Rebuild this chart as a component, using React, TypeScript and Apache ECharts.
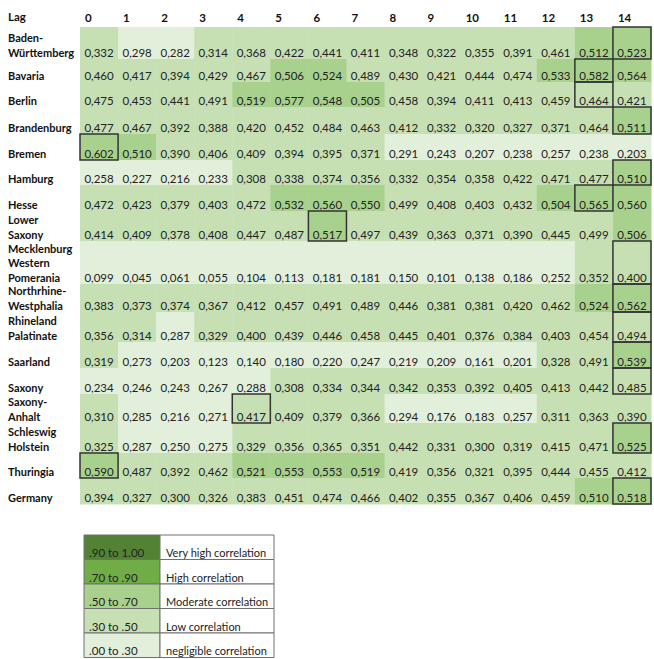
import React, { useEffect, useRef } from "react";
import * as echarts from "echarts";

const lags = ["0", "1", "2", "3", "4", "5", "6", "7", "8", "9", "10", "11", "12", "13", "14"];

const regions = [
  "Baden-\nWürttemberg",
  "Bavaria",
  "Berlin",
  "Brandenburg",
  "Bremen",
  "Hamburg",
  "Hesse",
  "Lower\nSaxony",
  "Mecklenburg\nWestern\nPomerania",
  "Northrhine-\nWestphalia",
  "Rhineland\nPalatinate",
  "Saarland",
  "Saxony",
  "Saxony-\nAnhalt",
  "Schleswig\nHolstein",
  "Thuringia",
  "Germany",
];

const badenWuerttemberg = [0.332, 0.298, 0.282, 0.314, 0.368, 0.422, 0.441, 0.411, 0.348, 0.322, 0.355, 0.391, 0.461, 0.512, 0.523];
const bavaria = [0.46, 0.417, 0.394, 0.429, 0.467, 0.506, 0.524, 0.489, 0.43, 0.421, 0.444, 0.474, 0.533, 0.582, 0.564];
const berlin = [0.475, 0.453, 0.441, 0.491, 0.519, 0.577, 0.548, 0.505, 0.458, 0.394, 0.411, 0.413, 0.459, 0.464, 0.421];
const brandenburg = [0.477, 0.467, 0.392, 0.388, 0.42, 0.452, 0.484, 0.463, 0.412, 0.332, 0.32, 0.327, 0.371, 0.464, 0.511];
const bremen = [0.602, 0.51, 0.39, 0.406, 0.409, 0.394, 0.395, 0.371, 0.291, 0.243, 0.207, 0.238, 0.257, 0.238, 0.203];
const hamburg = [0.258, 0.227, 0.216, 0.233, 0.308, 0.338, 0.374, 0.356, 0.332, 0.354, 0.358, 0.422, 0.471, 0.477, 0.51];
const hesse = [0.472, 0.423, 0.379, 0.403, 0.472, 0.532, 0.56, 0.55, 0.499, 0.408, 0.403, 0.432, 0.504, 0.565, 0.56];
const lowerSaxony = [0.414, 0.409, 0.378, 0.408, 0.447, 0.487, 0.517, 0.497, 0.439, 0.363, 0.371, 0.39, 0.445, 0.499, 0.506];
const mecklenburg = [0.099, 0.045, 0.061, 0.055, 0.104, 0.113, 0.181, 0.181, 0.15, 0.101, 0.138, 0.186, 0.252, 0.352, 0.4];
const northrhineWestphalia = [0.383, 0.373, 0.374, 0.367, 0.412, 0.457, 0.491, 0.489, 0.446, 0.381, 0.381, 0.42, 0.462, 0.524, 0.562];
const rhinelandPalatinate = [0.356, 0.314, 0.287, 0.329, 0.4, 0.439, 0.446, 0.458, 0.445, 0.401, 0.376, 0.384, 0.403, 0.454, 0.494];
const saarland = [0.319, 0.273, 0.203, 0.123, 0.14, 0.18, 0.22, 0.247, 0.219, 0.209, 0.161, 0.201, 0.328, 0.491, 0.539];
const saxony = [0.234, 0.246, 0.243, 0.267, 0.288, 0.308, 0.334, 0.344, 0.342, 0.353, 0.392, 0.405, 0.413, 0.442, 0.485];
const saxonyAnhalt = [0.31, 0.285, 0.216, 0.271, 0.417, 0.409, 0.379, 0.366, 0.294, 0.176, 0.183, 0.257, 0.311, 0.363, 0.39];
const schleswigHolstein = [0.325, 0.287, 0.25, 0.275, 0.329, 0.356, 0.365, 0.351, 0.442, 0.331, 0.3, 0.319, 0.415, 0.471, 0.525];
const thuringia = [0.59, 0.487, 0.392, 0.462, 0.521, 0.553, 0.553, 0.519, 0.419, 0.356, 0.321, 0.395, 0.444, 0.455, 0.412];
const germany = [0.394, 0.327, 0.3, 0.326, 0.383, 0.451, 0.474, 0.466, 0.402, 0.355, 0.367, 0.406, 0.459, 0.51, 0.518];

const rows = [
  badenWuerttemberg, bavaria, berlin, brandenburg, bremen, hamburg, hesse, lowerSaxony,
  mecklenburg, northrhineWestphalia, rhinelandPalatinate, saarland, saxony, saxonyAnhalt,
  schleswigHolstein, thuringia, germany,
];

// lag whose cell is outlined in each row
const boxedLag = [14, 13, 13, 14, 0, 14, 13, 6, 14, 14, 14, 14, 14, 4, 14, 0, 14];

const thresholds = [0.9, 0.7, 0.5, 0.3, 0.0];
const legendRanges = [".90 to 1.00", ".70 to .90", ".50 to .70", ".30 to .50", ".00 to .30"];
const legendLabels = ["Very high correlation", "High correlation", "Moderate correlation", "Low correlation", "negligible correlation"];
const bandColors = ["#548235", "#70AD47", "#A9D18E", "#C6E0B4", "#E2EFDA"];

// layout (row heights in px, like spreadsheet rows)
const rowHeights = [32, 23, 25, 27, 26, 25, 26, 30, 43, 28, 30, 26, 26, 29, 30, 25, 26];
const FONT = "Lato, 'Open Sans', sans-serif";

const rowTops: number[] = [];
{
  let acc = 0;
  for (const h of rowHeights) {
    rowTops.push(acc);
    acc += h;
  }
}
const totalH = rowHeights.reduce((a, b) => a + b, 0);

function colorFor(v: number): string {
  for (let i = 0; i < thresholds.length; i++) if (v >= thresholds[i] - 1e-9) return bandColors[i];
  return bandColors[bandColors.length - 1];
}
const fmt = (v: number) => v.toFixed(3).replace(".", ",");

export default function App() {
  const ref = useRef<HTMLDivElement>(null);
  useEffect(() => {
    if (!ref.current) return;
    const chart = echarts.init(ref.current, undefined, { renderer: "svg" });

    const cellData: number[][] = [];
    rows.forEach((vals, r) => vals.forEach((v, c) => cellData.push([c, r, v])));
    const boxData = boxedLag.map((c, r) => [c, r]);
    const labelData = regions.map((_, r) => [0, r]);

    const legendTop = 535;
    const legendRowH = 24.5;
    const lx0 = 84, lx1 = 160, lx2 = 274;
    const legendEls: any[] = [];
    legendRanges.forEach((rng, i) => {
      const y = legendTop + i * legendRowH;
      legendEls.push({
        type: "rect",
        shape: { x: lx0, y, width: lx1 - lx0, height: legendRowH },
        style: { fill: bandColors[i], stroke: "#707070", lineWidth: 1 },
      });
      legendEls.push({
        type: "rect",
        shape: { x: lx1, y, width: lx2 - lx1, height: legendRowH },
        style: { fill: "#ffffff", stroke: "#707070", lineWidth: 1 },
      });
      legendEls.push({
        type: "text",
        x: lx0 + 5,
        y: y + legendRowH - 7,
        style: { text: rng, fill: "#222", fontSize: 11.5, fontFamily: FONT, align: "left", verticalAlign: "middle" },
      });
      legendEls.push({
        type: "text",
        x: lx1 + 6,
        y: y + legendRowH - 7,
        style: { text: legendLabels[i], fill: "#222", fontSize: 11, fontFamily: FONT, align: "left", verticalAlign: "middle" },
      });
    });

    chart.setOption({
      animation: false,
      backgroundColor: "#ffffff",
      grid: { left: 80, top: 27, width: 572, height: totalH, containLabel: false },
      xAxis: {
        type: "value",
        position: "top",
        min: 0,
        max: 15,
        interval: 1,
        axisLine: { show: false },
        axisTick: { show: false },
        splitLine: { show: false },
        axisLabel: {
          formatter: (v: number) => lags[v] ?? "",
          align: "left",
          padding: [0, 0, 0, 5],
          margin: 4,
          fontWeight: "bold",
          fontSize: 11.5,
          fontFamily: FONT,
          color: "#111",
        },
      },
      yAxis: { type: "value", min: 0, max: totalH, inverse: true, show: false },
      graphic: [
        {
          type: "text",
          x: 8,
          y: 16,
          style: { text: "Lag", fill: "#111", fontSize: 11.5, fontWeight: "bold", fontFamily: FONT, align: "left", verticalAlign: "middle" },
        },
        ...legendEls,
      ],
      series: [
        {
          type: "custom",
          data: cellData,
          z: 1,
          renderItem: (params: any, api: any) => {
            const c = api.value(0), r = api.value(1), v = api.value(2);
            const p0 = api.coord([c, rowTops[r]]);
            const p1 = api.coord([c + 1, rowTops[r] + rowHeights[r]]);
            return {
              type: "group",
              children: [
                {
                  type: "rect",
                  shape: { x: p0[0], y: p0[1], width: p1[0] - p0[0] + 0.5, height: p1[1] - p0[1] + 0.5 },
                  style: { fill: colorFor(v) },
                },
                {
                  type: "text",
                  x: (p0[0] + p1[0]) / 2,
                  y: p1[1] - 7,
                  style: { text: fmt(v), fill: "#222", fontSize: 11.5, fontFamily: FONT, align: "center", verticalAlign: "middle" },
                },
              ],
            };
          },
        },
        {
          type: "custom",
          data: boxData,
          z: 3,
          renderItem: (params: any, api: any) => {
            const c = api.value(0), r = api.value(1);
            const p0 = api.coord([c, rowTops[r]]);
            const p1 = api.coord([c + 1, rowTops[r] + rowHeights[r]]);
            return {
              type: "rect",
              shape: { x: p0[0], y: p0[1], width: p1[0] - p0[0], height: p1[1] - p0[1] },
              style: { fill: "none", stroke: "#333", lineWidth: 1.5 },
            };
          },
        },
        {
          type: "custom",
          data: labelData,
          z: 2,
          renderItem: (params: any, api: any) => {
            const r = api.value(1);
            const pb = api.coord([0, rowTops[r] + rowHeights[r]]);
            return {
              type: "text",
              x: 8,
              y: pb[1] + 0.25,
              style: {
                text: regions[r],
                fill: "#111",
                fontSize: 11,
                fontWeight: "bold",
                fontFamily: FONT,
                lineHeight: 14.5,
                align: "left",
                verticalAlign: "bottom",
              },
            };
          },
        },
      ],
    });
    return () => chart.dispose();
  }, []);
  return (
    <div
      ref={ref}
      style={{ position: "fixed", left: 0, top: 0, width: 654, height: 659, background: "#fff" }}
    />
  );
}
